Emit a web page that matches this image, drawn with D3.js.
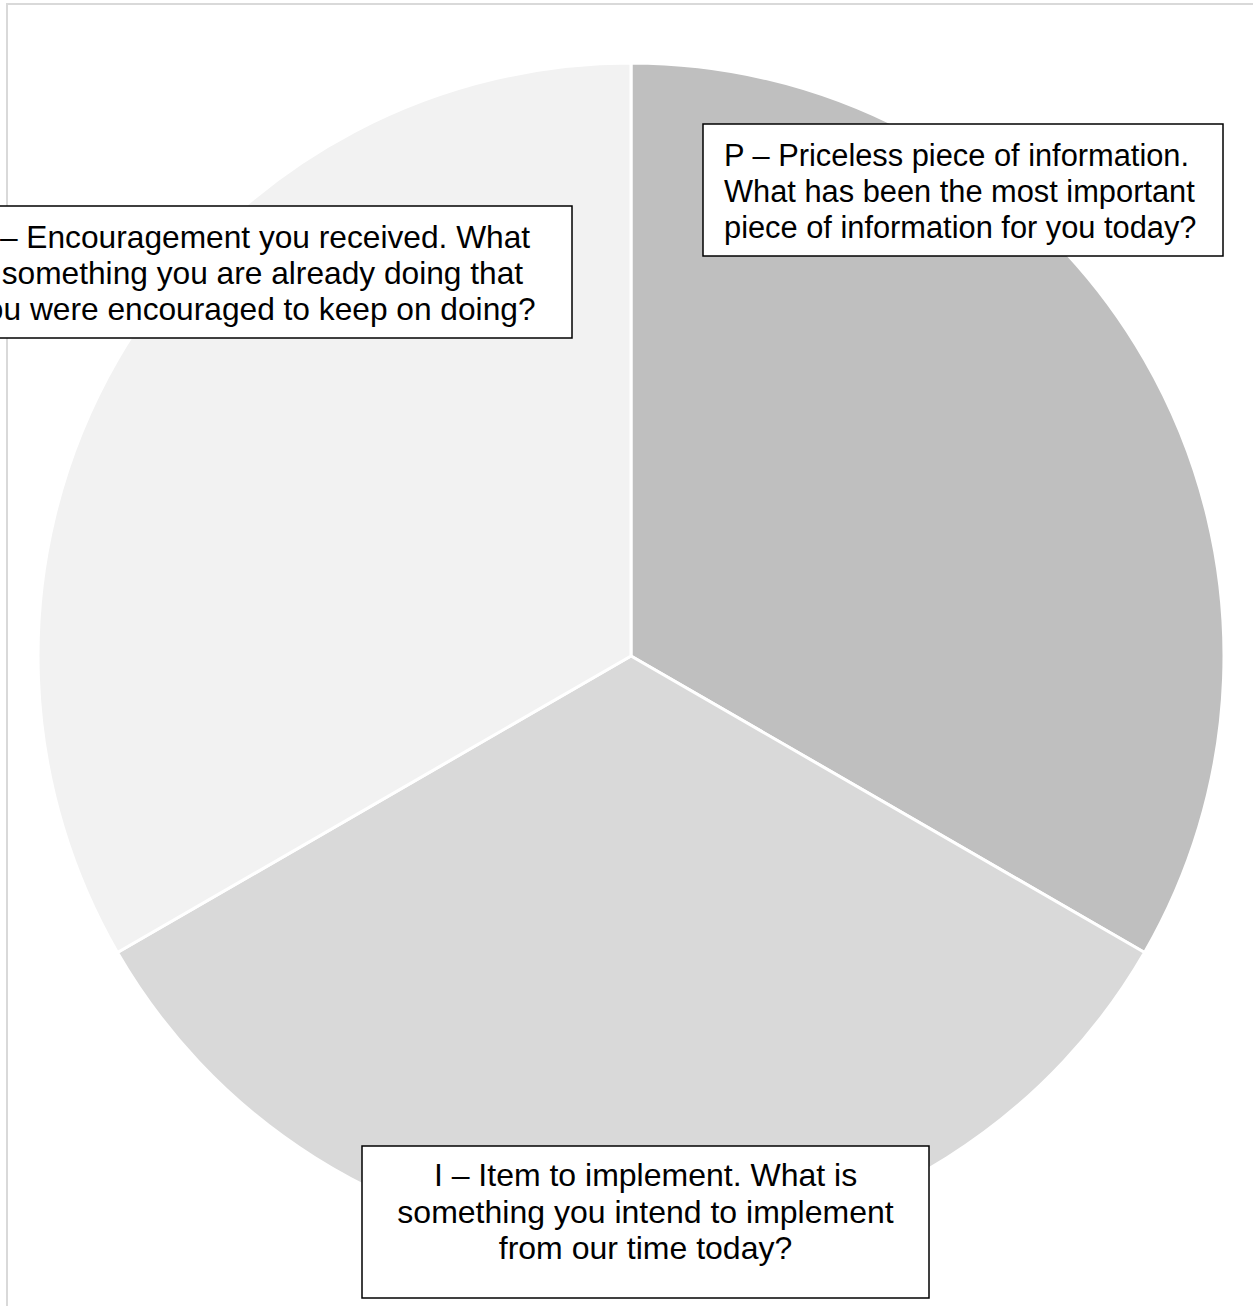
<!DOCTYPE html>
<html>
<head>
<meta charset="utf-8">
<script src="https://cdn.jsdelivr.net/npm/d3@7"></script>
<style>
  html, body { margin: 0; padding: 0; background: #fff; overflow: hidden; }
  svg { display: block; font-family: "Liberation Sans", Arial, sans-serif; }
</style>
</head>
<body>
<svg id="chart" width="1253" height="1306"></svg>
<script>
// Three equal slices of the P.I.E. reflection wheel.
var categories = ['P', 'I', 'E'];
var values = [1, 1, 1];
var labelLines = [
  ['P \u2013 Priceless piece of information.', 'What has been the most important', 'piece of information for you today?'],
  ['I \u2013 Item to implement. What is', 'something you intend to implement', 'from our time today?'],
  ['E \u2013 Encouragement you received. What', 'is something you are already doing that', 'you were encouraged to keep on doing?']
];
var sliceColors = ['#bfbfbf', '#d9d9d9', '#f2f2f2'];

var svg = d3.select('#chart');

// chart area border (right and bottom edges fall outside the picture)
svg.append('rect')
  .attr('x', 7).attr('y', 4)
  .attr('width', 1400).attr('height', 1400)
  .attr('fill', '#fff')
  .attr('stroke', '#d9d9d9')
  .attr('stroke-width', 2);

var cx = 631, cy = 656, radius = 593;

var pie = d3.pie().sort(null).value(function(d) { return d; });
var arc = d3.arc().innerRadius(0).outerRadius(radius);

var color = d3.scaleOrdinal().domain(categories).range(sliceColors);

svg.append('g')
    .attr('transform', 'translate(' + cx + ',' + cy + ')')
  .selectAll('path')
  .data(pie(values))
  .enter().append('path')
    .attr('d', arc)
    .attr('fill', function(d, i) { return color(categories[i]); })
    .attr('stroke', '#fff')
    .attr('stroke-width', 3)
    .attr('stroke-linejoin', 'round');

// Callout boxes
var boxes = [
  { x: 703, y: 124, w: 520, h: 132, anchor: 'start', tx: 724, base: 166, lineH: 36, size: 30.8 },
  { x: 362, y: 1146, w: 567, h: 152, anchor: 'middle', tx: 645.5, base: 1186, lineH: 36.5, size: 32 },
  { x: -49, y: 206, w: 621, h: 132, anchor: 'start', tx: -30, base: 248, lineH: 36, size: 31.7 }
];

var labels = svg.append('g').selectAll('g')
  .data(categories)
  .enter().append('g');

labels.append('rect')
  .attr('x', function(d, i) { return boxes[i].x; })
  .attr('y', function(d, i) { return boxes[i].y; })
  .attr('width', function(d, i) { return boxes[i].w; })
  .attr('height', function(d, i) { return boxes[i].h; })
  .attr('fill', '#fff')
  .attr('stroke', '#000')
  .attr('stroke-width', 1.5);

labels.each(function(d, i) {
  var b = boxes[i];
  var t = d3.select(this).append('text')
    .attr('font-size', b.size)
    .attr('fill', '#000')
    .attr('text-anchor', b.anchor);
  labelLines[i].forEach(function(line, k) {
    t.append('tspan')
      .attr('x', b.tx)
      .attr('y', b.base + k * b.lineH)
      .text(line);
  });
});
</script>
</body>
</html>
